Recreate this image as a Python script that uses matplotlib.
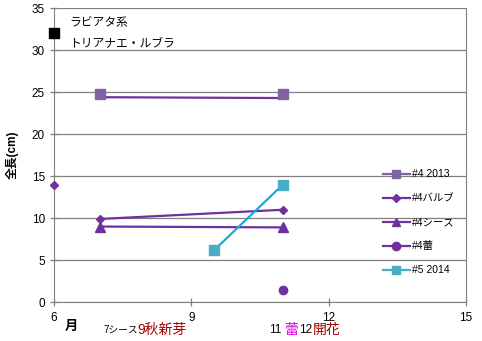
import matplotlib.pyplot as plt
from matplotlib.lines import Line2D

plt.rcParams['font.family'] = ['Liberation Sans', 'Noto Sans CJK JP']

# data (month, length cm)
lab_x = [6]
lab_y = [32]
s2013_x = [7, 11]
s2013_y = [24.8, 24.8]
s2013_line_y = [24.4, 24.3]
bulb_x = [6, 7, 11]
bulb_y = [13.9, 9.9, 11.0]
sheath_x = [7, 11]
sheath_y = [9.0, 8.9]
bud_x = [11]
bud_y = [1.4]
s2014_x = [9.5, 11]
s2014_y = [6.2, 14.0]

c_light = '#8064A2'
c_dark = '#7030A0'
c_teal = '#4BACC6'
c_blue = '#1BA8E0'

fig = plt.figure(figsize=(4.82, 3.41), dpi=100)
ax = fig.add_axes([0.112, 0.114, 0.855, 0.862])

ax.plot(lab_x, lab_y, 's', color='black', ms=6.5, clip_on=False, zorder=5)
ax.plot(s2013_x, s2013_line_y, '-', color=c_dark, lw=1.6)
ax.plot(s2013_x, s2013_y, 's', color=c_light, ms=6.5)
ax.plot(bulb_x[1:], bulb_y[1:], '-', color=c_dark, lw=1.6)
ax.plot(bulb_x, bulb_y, 'D', color=c_dark, ms=4.5, clip_on=False, zorder=5)
ax.plot(sheath_x, sheath_y, '^-', color=c_dark, lw=1.6, ms=6.5)
ax.plot(bud_x, bud_y, 'o', color=c_dark, ms=6)
ax.plot(s2014_x, s2014_y, '-', color=c_blue, lw=1.6)
ax.plot(s2014_x, s2014_y, 's', color=c_teal, ms=6.5)

ax.set_xlim(6, 15)
ax.set_ylim(0, 35)
ax.set_xticks([6, 9, 12, 15])
ax.set_yticks(range(0, 36, 5))
ax.yaxis.grid(True, color='#808080', lw=0.9)
ax.set_axisbelow(True)
for s in ax.spines.values():
    s.set_color('#808080')
ax.spines['top'].set_visible(False)
ax.tick_params(axis='both', direction='inout', length=6, color='#808080',
               labelsize=8.5, width=0.9)
ax.tick_params(axis='x', pad=4)

ax.set_ylabel('全長(cm)', fontsize=8.5, fontweight='bold', labelpad=9)

ax.text(6.33, 32, 'ラビアタ系\nトリアナエ・ルブラ', fontsize=8.5, va='center',
        linespacing=1.9)

handles = [
    Line2D([], [], color=c_light, marker='s', lw=1.6, ms=6),
    Line2D([], [], color=c_dark, marker='D', lw=1.6, ms=4.5),
    Line2D([], [], color=c_dark, marker='^', lw=1.6, ms=6),
    Line2D([], [], color=c_dark, marker='o', lw=1.6, ms=6),
    Line2D([], [], color=c_teal, marker='s', lw=1.6, ms=6),
]
labels = ['#4 2013', '#4バルブ', '#4シース', '#4蕾', '#5 2014']
ax.legend(handles, labels, frameon=False, fontsize=7.5, loc='upper left',
          bbox_to_anchor=(0.785, 0.47), handlelength=2.6, handletextpad=0.2,
          labelspacing=1.35, borderpad=0)

# month notes under axis
y_note = 1 - 330 / 341
fig.text(65 / 482, 1 - 327 / 341, '月', fontsize=9.5, fontweight='bold', va='center')
fig.text(103 / 482, y_note, '7シース', fontsize=7, va='center')
fig.text(137 / 482, y_note, '9秋新芽', fontsize=10, va='center', color='#A00000')
fig.text(269 / 482, y_note, '11', fontsize=8.5, va='center')
fig.text(284 / 482, y_note, '蕾', fontsize=10, va='center', color='#E000E0')
fig.text(299 / 482, y_note, '12', fontsize=8.5, va='center')
fig.text(313 / 482, y_note, '開花', fontsize=10, va='center', color='#A00000')

fig.savefig('out.png', dpi=100)
